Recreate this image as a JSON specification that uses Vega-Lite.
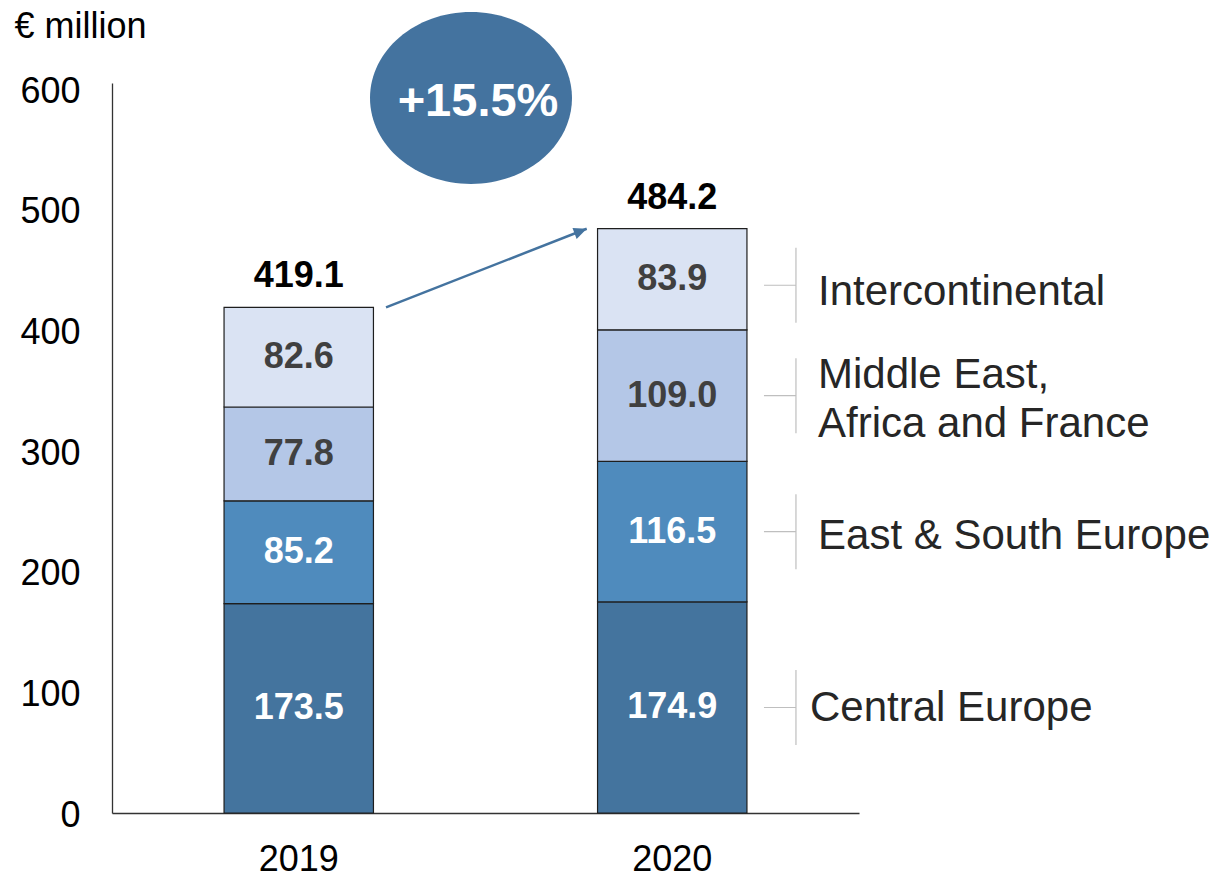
{
  "$schema": "https://vega.github.io/schema/vega-lite/v6.json",
  "width": 747,
  "height": 730,
  "autosize": {"type": "none"},
  "padding": {"left": 112, "top": 83, "right": 363, "bottom": 62},
  "background": "white",
  "config": {"view": {"stroke": null}, "font": "Liberation Sans"},
  "datasets": {
    "segments": [
      {"year": "2019", "region": "Central Europe", "rank": 1, "value": 173.5},
      {"year": "2019", "region": "East & South Europe", "rank": 2, "value": 85.2},
      {"year": "2019", "region": "Middle East,\nAfrica and France", "rank": 3, "value": 77.8},
      {"year": "2019", "region": "Intercontinental", "rank": 4, "value": 82.6},
      {"year": "2020", "region": "Central Europe", "rank": 1, "value": 174.9},
      {"year": "2020", "region": "East & South Europe", "rank": 2, "value": 116.5},
      {"year": "2020", "region": "Middle East,\nAfrica and France", "rank": 3, "value": 109.0},
      {"year": "2020", "region": "Intercontinental", "rank": 4, "value": 83.9}
    ],
    "totals": [
      {"year": "2019", "total": 419.1},
      {"year": "2020", "total": 484.2}
    ],
    "arrow": [
      {"from": "2019", "to": "2020", "start": 419.1, "end": 484.2}
    ],
    "growth": [
      {"year": "2019", "change": "+15.5%"}
    ]
  },
  "layer": [
    {
      "data": {"name": "segments"},
      "mark": {"type": "bar", "stroke": "#1e1e1e", "strokeWidth": 1.2},
      "encoding": {
        "x": {
          "field": "year", "type": "nominal",
          "scale": {"paddingInner": 0.6, "paddingOuter": 0.3},
          "axis": {
            "title": null, "labelAngle": 0, "labelFontSize": 36, "labelColor": "#000",
            "ticks": false, "tickSize": 0, "labelPadding": 29,
            "domainColor": "#333", "domainWidth": 1.3, "grid": false
          }
        },
        "y": {
          "field": "value", "type": "quantitative", "stack": "zero",
          "scale": {"domain": [0, 605], "nice": false},
          "axis": {
            "title": "€ million", "titleAngle": 0, "titleAlign": "left", "titleBaseline": "alphabetic",
            "titleX": -98, "titleY": -46, "titleFontSize": 36, "titleFontWeight": "normal", "titleColor": "#000",
            "values": [0, 100, 200, 300, 400, 500, 600],
            "labelFontSize": 36, "labelColor": "#000", "labelPadding": 32, "labelOffset": 2,
            "ticks": false, "tickSize": 0, "grid": false,
            "domainColor": "#333", "domainWidth": 1.3
          }
        },
        "color": {
          "field": "region", "type": "nominal",
          "scale": {
            "domain": ["Central Europe", "East & South Europe", "Middle East,\nAfrica and France", "Intercontinental"],
            "range": ["#44749E", "#4F8BBD", "#B4C7E7", "#DAE3F3"]
          },
          "legend": null
        },
        "order": {"field": "rank", "type": "quantitative"}
      }
    },
    {
      "data": {"name": "segments"},
      "mark": {"type": "text", "fontSize": 36, "fontWeight": "bold", "baseline": "middle", "align": "center"},
      "encoding": {
        "x": {"field": "year", "type": "nominal"},
        "y": {"field": "value", "type": "quantitative", "stack": "zero", "bandPosition": 0.5},
        "detail": {"field": "region"},
        "order": {"field": "rank", "type": "quantitative"},
        "text": {"field": "value", "type": "quantitative", "format": ".1f"},
        "color": {"condition": {"test": "datum.rank <= 2", "value": "#FFFFFF"}, "value": "#404040"}
      }
    },
    {
      "data": {"name": "totals"},
      "mark": {"type": "text", "fontSize": 36, "fontWeight": "bold", "baseline": "alphabetic", "align": "center", "dy": -20, "color": "#000"},
      "encoding": {
        "x": {"field": "year", "type": "nominal"},
        "y": {"field": "total", "type": "quantitative"},
        "text": {"field": "total", "type": "quantitative", "format": ".1f"}
      }
    },
    {
      "data": {"name": "segments"},
      "transform": [{"filter": "datum.year == '2020' && datum.rank < 4"}],
      "mark": {"type": "point", "shape": "M 0 -1 L 0 1 M -0.853 0 L 0 0", "size": 5625, "filled": false, "stroke": "#BFBFBF", "strokeWidth": 1.2, "opacity": 1},
      "encoding": {
        "x": {"field": "year", "type": "nominal", "bandPosition": 1.328},
        "y": {"field": "value", "type": "quantitative", "stack": "zero", "bandPosition": 0.5},
        "detail": {"field": "region"},
        "order": {"field": "rank", "type": "quantitative"}
      }
    },
    {
      "data": {"name": "segments"},
      "transform": [{"filter": "datum.year == '2020'"}],
      "mark": {"type": "point", "shape": "M 0 -1 L 0 1 M -0.853 0 L 0 0", "size": 5625, "filled": false, "stroke": "#BFBFBF", "strokeWidth": 1.2, "opacity": 1, "yOffset": 6},
      "encoding": {
        "x": {"field": "year", "type": "nominal", "bandPosition": 1.328},
        "y": {"field": "value", "type": "quantitative", "stack": "zero", "bandPosition": 0.5},
        "detail": {"field": "region"},
        "order": {"field": "rank", "type": "quantitative"},
        "opacity": {"condition": {"test": "datum.rank == 4", "value": 1}, "value": 0}
      }
    },
    {
      "data": {"name": "segments"},
      "transform": [{"filter": "datum.year == '2020'"}],
      "mark": {"type": "text", "fontSize": 42, "align": "left", "baseline": "middle", "color": "#262626", "dx": -8, "dy": 1},
      "encoding": {
        "x": {"field": "year", "type": "nominal", "bandPosition": 1.4756},
        "y": {"field": "value", "type": "quantitative", "stack": "zero", "bandPosition": 0.5},
        "detail": {"field": "region"},
        "order": {"field": "rank", "type": "quantitative"},
        "text": {"field": "region"},
        "opacity": {"condition": {"test": "datum.rank == 1", "value": 1}, "value": 0}
      }
    },
    {
      "data": {"name": "segments"},
      "transform": [{"filter": "datum.year == '2020'"}],
      "mark": {"type": "text", "fontSize": 42, "align": "left", "baseline": "middle", "color": "#262626", "dy": 4},
      "encoding": {
        "x": {"field": "year", "type": "nominal", "bandPosition": 1.4756},
        "y": {"field": "value", "type": "quantitative", "stack": "zero", "bandPosition": 0.5},
        "detail": {"field": "region"},
        "order": {"field": "rank", "type": "quantitative"},
        "text": {"field": "region"},
        "opacity": {"condition": {"test": "datum.rank == 2", "value": 1}, "value": 0}
      }
    },
    {
      "data": {"name": "segments"},
      "transform": [{"filter": "datum.year == '2020'"}],
      "mark": {"type": "text", "fontSize": 42, "align": "left", "baseline": "middle", "lineBreak": "\n", "lineHeight": 49, "color": "#262626", "dy": -21},
      "encoding": {
        "x": {"field": "year", "type": "nominal", "bandPosition": 1.4756},
        "y": {"field": "value", "type": "quantitative", "stack": "zero", "bandPosition": 0.5},
        "detail": {"field": "region"},
        "order": {"field": "rank", "type": "quantitative"},
        "text": {"field": "region"},
        "opacity": {"condition": {"test": "datum.rank == 3", "value": 1}, "value": 0}
      }
    },
    {
      "data": {"name": "segments"},
      "transform": [{"filter": "datum.year == '2020'"}],
      "mark": {"type": "text", "fontSize": 42, "align": "left", "baseline": "middle", "color": "#262626", "dy": 13},
      "encoding": {
        "x": {"field": "year", "type": "nominal", "bandPosition": 1.4756},
        "y": {"field": "value", "type": "quantitative", "stack": "zero", "bandPosition": 0.5},
        "detail": {"field": "region"},
        "order": {"field": "rank", "type": "quantitative"},
        "text": {"field": "region"},
        "opacity": {"condition": {"test": "datum.rank == 4", "value": 1}, "value": 0}
      }
    },
    {
      "data": {"name": "arrow"},
      "mark": {"type": "rule", "color": "#44739F", "strokeWidth": 2.5},
      "encoding": {
        "x": {"field": "from", "type": "nominal", "bandPosition": 1.084},
        "x2": {"field": "to", "bandPosition": -0.0726},
        "y": {"field": "start", "type": "quantitative"},
        "y2": {"field": "end"}
      }
    },
    {
      "data": {"name": "arrow"},
      "mark": {"type": "point", "shape": "M 0 0 L -1 -0.45 L -1 0.45 Z", "size": 676, "filled": true, "color": "#44739F", "opacity": 1, "angle": -21, "strokeWidth": 0},
      "encoding": {
        "x": {"field": "to", "type": "nominal", "bandPosition": -0.0726},
        "y": {"field": "end", "type": "quantitative"}
      }
    },
    {
      "data": {"name": "growth"},
      "mark": {"type": "point", "shape": "M -1 0 A 1 0.851 0 1 1 1 0 A 1 0.851 0 1 1 -1 0 Z", "size": 40804, "filled": true, "color": "#44739F", "opacity": 1, "strokeWidth": 0},
      "encoding": {
        "x": {"field": "year", "type": "nominal", "bandPosition": 1.653},
        "y": {"datum": 592.6, "type": "quantitative"}
      }
    },
    {
      "data": {"name": "growth"},
      "mark": {"type": "text", "fontSize": 47, "fontWeight": "bold", "color": "#FFFFFF", "align": "center", "baseline": "middle"},
      "encoding": {
        "x": {"field": "year", "type": "nominal", "bandPosition": 1.7},
        "y": {"datum": 589.3, "type": "quantitative"},
        "text": {"field": "change"}
      }
    }
  ]
}
